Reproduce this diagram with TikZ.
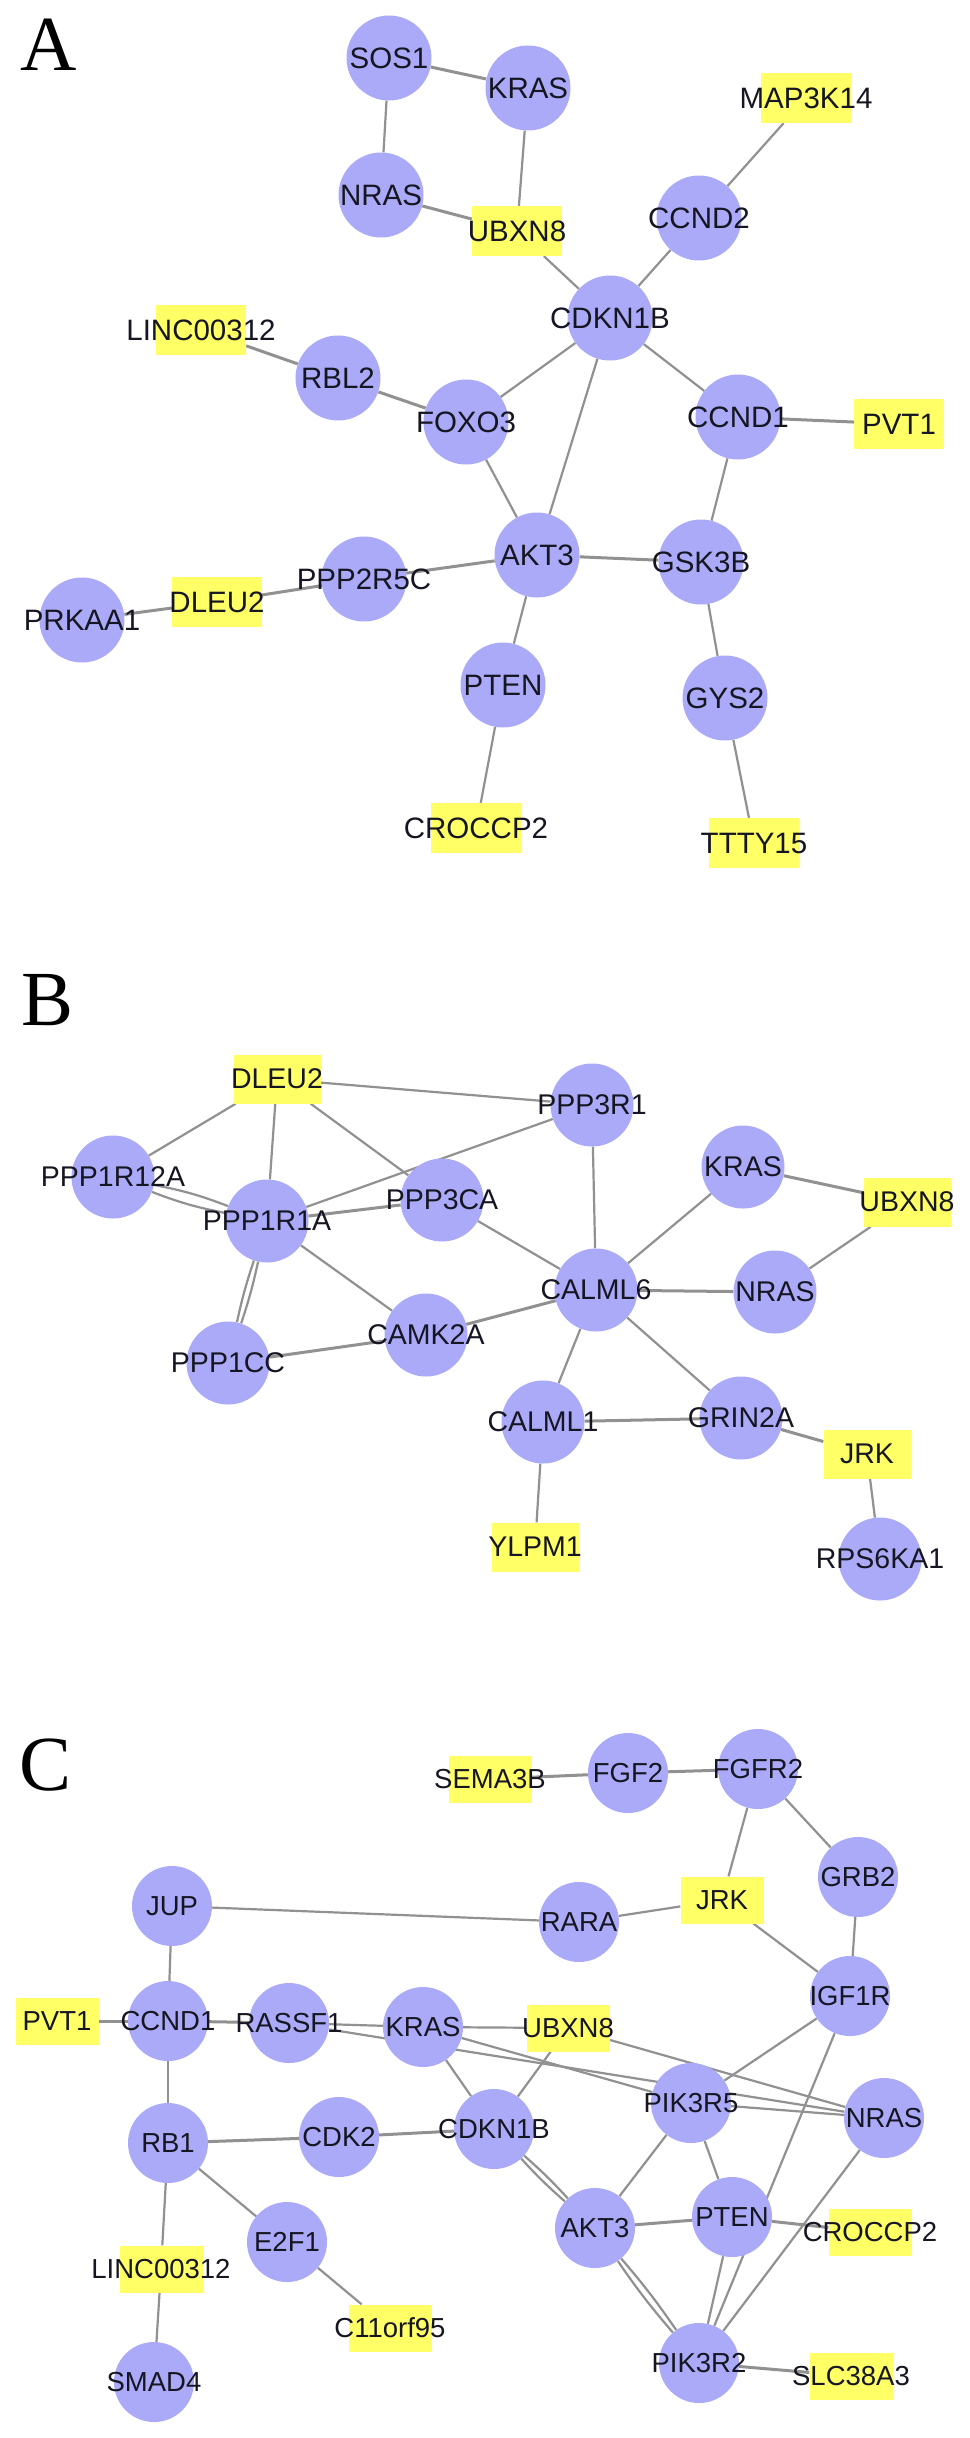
\documentclass[tikz,border=0pt]{standalone}
\usepackage{fontspec}
\setmainfont{Liberation Sans}
\newfontfamily\letterfont{Liberation Serif}
\definecolor{nodeblue}{RGB}{170,170,248}
\definecolor{lncyellow}{RGB}{255,255,102}
\definecolor{edgec}{RGB}{145,145,145}
\definecolor{textc}{RGB}{22,22,34}
\pgfdeclarelayer{backdrop}
\pgfdeclarelayer{bg}
\pgfsetlayers{backdrop,bg,main}
\tikzset{
  txt/.style={font=\fontsize{\fsz}{\fsz}\selectfont, text=textc, inner sep=0pt},
  gene/.style={circle, fill=nodeblue, inner sep=0pt, minimum size=\csz, label={[txt]center:#1}},
  lnc/.style={rectangle, fill=lncyellow, inner sep=0pt, minimum width=\bw, minimum height=\bh, label={[txt]center:#1}},
  edge/.style={draw=edgec, line width=2.2pt},
  thick edge/.style={draw=edgec, line width=3pt},
  panel/.style={font=\letterfont\fontsize{78}{78}\selectfont, text=black, inner sep=0pt},
}
\begin{document}
\begin{tikzpicture}[x=1pt,y=-1pt]
\begin{pgfonlayer}{backdrop}
\fill[white] (0,0) rectangle (969,2438);
\end{pgfonlayer}
\useasboundingbox (0,0) rectangle (969,2438);

% ---------------- Panel A ----------------
\begin{scope}
\def\csz{85pt}\def\bw{90pt}\def\bh{50pt}\def\fsz{29.5}
\node[panel] (labA) at (49,45) {A};
\node[gene=SOS1] (a-sos1) at (389,58) {};
\node[gene=KRAS] (a-kras) at (528,88) {};
\node[gene=NRAS] (a-nras) at (381,195) {};
\node[gene=CCND2] (a-ccnd2) at (699,218) {};
\node[gene=CDKN1B] (a-cdkn1b) at (610,318) {};
\node[gene=RBL2] (a-rbl2) at (338,378) {};
\node[gene=FOXO3] (a-foxo3) at (466,422) {};
\node[gene=CCND1] (a-ccnd1) at (738,417) {};
\node[gene=AKT3] (a-akt3) at (537,555) {};
\node[gene=GSK3B] (a-gsk3b) at (701,562) {};
\node[gene=PPP2R5C] (a-ppp2r5c) at (364,579) {};
\node[gene=PRKAA1] (a-prkaa1) at (82,620) {};
\node[gene=PTEN] (a-pten) at (503,685) {};
\node[gene=GYS2] (a-gys2) at (725,698) {};
\node[lnc=UBXN8] (a-ubxn8) at (517,231) {};
\node[lnc=MAP3K14] (a-map3k14) at (806,98) {};
\node[lnc=LINC00312] (a-linc) at (201,330) {};
\node[lnc=PVT1] (a-pvt1) at (899,424) {};
\node[lnc=DLEU2] (a-dleu2) at (217,602) {};
\node[lnc=CROCCP2] (a-croccp2) at (476,828) {};
\node[lnc=TTTY15] (a-ttty15) at (754,843) {};
\begin{pgfonlayer}{bg}
\draw[thick edge] (a-sos1) -- (a-kras);
\draw[edge] (a-sos1) -- (a-nras);
\draw[thick edge] (a-nras) -- (a-ubxn8);
\draw[edge] (a-kras) -- (a-ubxn8);
\draw[edge] (a-ubxn8) -- (a-cdkn1b);
\draw[edge] (a-ccnd2) -- (a-map3k14);
\draw[edge] (a-ccnd2) -- (a-cdkn1b);
\draw[thick edge] (a-linc) -- (a-rbl2);
\draw[thick edge] (a-rbl2) -- (a-foxo3);
\draw[edge] (a-foxo3) -- (a-cdkn1b);
\draw[edge] (a-cdkn1b) -- (a-akt3);
\draw[edge] (a-cdkn1b) -- (a-ccnd1);
\draw[thick edge] (a-ccnd1) -- (a-pvt1);
\draw[edge] (a-ccnd1) -- (a-gsk3b);
\draw[edge] (a-foxo3) -- (a-akt3);
\draw[thick edge] (a-akt3) -- (a-gsk3b);
\draw[thick edge] (a-akt3) -- (a-ppp2r5c);
\draw[thick edge] (a-ppp2r5c) -- (a-dleu2);
\draw[thick edge] (a-dleu2) -- (a-prkaa1);
\draw[edge] (a-akt3) -- (a-pten);
\draw[edge] (a-gsk3b) -- (a-gys2);
\draw[edge] (a-pten) -- (a-croccp2);
\draw[edge] (a-gys2) -- (a-ttty15);
\end{pgfonlayer}
\end{scope}

% ---------------- Panel B ----------------
\begin{scope}
\def\csz{83pt}\def\bw{87pt}\def\bh{49pt}\def\fsz{28.5}
\node[panel] (labB) at (48,1000) {B};
\node[gene=PPP3R1] (b-ppp3r1) at (592,1105) {};
\node[gene=PPP1R12A] (b-ppp1r12a) at (113,1177) {};
\node[gene=PPP1R1A] (b-ppp1r1a) at (267,1221) {};
\node[gene=PPP3CA] (b-ppp3ca) at (442,1200) {};
\node[gene=KRAS] (b-kras) at (743,1167) {};
\node[gene=CALML6] (b-calml6) at (596,1290) {};
\node[gene=NRAS] (b-nras) at (775,1292) {};
\node[gene=CAMK2A] (b-camk2a) at (426,1335) {};
\node[gene=PPP1CC] (b-ppp1cc) at (228,1363) {};
\node[gene=CALML1] (b-calml1) at (543,1422) {};
\node[gene=GRIN2A] (b-grin2a) at (741,1418) {};
\node[gene=RPS6KA1] (b-rps6ka1) at (880,1559) {};
\node[lnc=DLEU2] (b-dleu2) at (277,1079) {};
\node[lnc=UBXN8] (b-ubxn8) at (907,1202) {};
\node[lnc=JRK] (b-jrk) at (867,1454) {};
\node[lnc=YLPM1] (b-ylpm1) at (535,1547) {};
\begin{pgfonlayer}{bg}
\draw[edge] (b-dleu2) -- (b-ppp3r1);
\draw[edge] (b-dleu2) -- (b-ppp1r12a);
\draw[edge] (b-dleu2) -- (b-ppp1r1a);
\draw[edge] (b-dleu2) -- (b-ppp3ca);
\draw[edge] (b-ppp3r1) -- (b-ppp1r1a);
\draw[edge] (b-ppp3r1) -- (b-calml6);
\draw[edge] (b-ppp1r12a) to[bend left=5] (b-ppp1r1a);
\draw[edge] (b-ppp1r12a) to[bend right=5] (b-ppp1r1a);
\draw[thick edge] (b-ppp1r1a) -- (b-ppp3ca);
\draw[edge] (b-ppp1r1a) to[bend left=3] (b-ppp1cc);
\draw[edge] (b-ppp1r1a) to[bend right=3] (b-ppp1cc);
\draw[edge] (b-ppp1r1a) -- (b-camk2a);
\draw[edge] (b-ppp3ca) -- (b-calml6);
\draw[thick edge] (b-ppp1cc) -- (b-camk2a);
\draw[thick edge] (b-camk2a) -- (b-calml6);
\draw[edge] (b-kras) -- (b-calml6);
\draw[thick edge] (b-kras) -- (b-ubxn8);
\draw[edge] (b-nras) -- (b-ubxn8);
\draw[thick edge] (b-calml6) -- (b-nras);
\draw[edge] (b-calml6) -- (b-calml1);
\draw[edge] (b-calml6) -- (b-grin2a);
\draw[thick edge] (b-calml1) -- (b-grin2a);
\draw[thick edge] (b-grin2a) -- (b-jrk);
\draw[edge] (b-jrk) -- (b-rps6ka1);
\draw[edge] (b-calml1) -- (b-ylpm1);
\end{pgfonlayer}
\end{scope}

% ---------------- Panel C ----------------
\begin{scope}
\def\csz{80pt}\def\bw{83pt}\def\bh{47pt}\def\fsz{27.5}
\node[panel] (labC) at (46,1765) {C};
\node[gene=FGF2] (c-fgf2) at (628,1773) {};
\node[gene=FGFR2] (c-fgfr2) at (758,1769) {};
\node[gene=GRB2] (c-grb2) at (858,1877) {};
\node[gene=JUP] (c-jup) at (172,1906) {};
\node[gene=RARA] (c-rara) at (579,1922) {};
\node[gene=IGF1R] (c-igf1r) at (850,1996) {};
\node[gene=CCND1] (c-ccnd1) at (168,2021) {};
\node[gene=RASSF1] (c-rassf1) at (289,2023) {};
\node[gene=KRAS] (c-kras) at (423,2027) {};
\node[gene=PIK3R5] (c-pik3r5) at (691,2103) {};
\node[gene=NRAS] (c-nras) at (884,2118) {};
\node[gene=RB1] (c-rb1) at (168,2143) {};
\node[gene=CDK2] (c-cdk2) at (339,2137) {};
\node[gene=CDKN1B] (c-cdkn1b) at (494,2129) {};
\node[gene=E2F1] (c-e2f1) at (287,2242) {};
\node[gene=AKT3] (c-akt3) at (595,2228) {};
\node[gene=PTEN] (c-pten) at (732,2217) {};
\node[gene=SMAD4] (c-smad4) at (154,2382) {};
\node[gene=PIK3R2] (c-pik3r2) at (699,2363) {};
\node[lnc=SEMA3B] (c-sema3b) at (490,1779) {};
\node[lnc=JRK] (c-jrk) at (722,1900) {};
\node[lnc=PVT1] (c-pvt1) at (57,2021) {};
\node[lnc=UBXN8] (c-ubxn8) at (568,2028) {};
\node[lnc=LINC00312] (c-linc) at (161,2269) {};
\node[lnc=C11orf95] (c-c11orf95) at (390,2328) {};
\node[lnc=CROCCP2] (c-croccp2) at (870,2232) {};
\node[lnc=SLC38A3] (c-slc38a3) at (851,2376) {};
\begin{pgfonlayer}{bg}
\draw[thick edge] (c-sema3b) -- (c-fgf2);
\draw[thick edge] (c-fgf2) -- (c-fgfr2);
\draw[edge] (c-fgfr2) -- (c-jrk);
\draw[edge] (c-fgfr2) -- (c-grb2);
\draw[edge] (c-grb2) -- (c-igf1r);
\draw[edge] (c-jup) -- (c-rara);
\draw[edge] (c-rara) -- (c-jrk);
\draw[edge] (c-jrk) -- (c-igf1r);
\draw[edge] (c-jup) -- (c-ccnd1);
\draw[thick edge] (c-pvt1) -- (c-ccnd1);
\draw[thick edge] (c-ccnd1) -- (c-rassf1);
\draw[edge] (c-ccnd1) -- (c-rb1);
\draw[thick edge] (c-rb1) -- (c-cdk2);
\draw[edge] (c-rb1) -- (c-e2f1);
\draw[edge] (c-rb1) -- (c-linc);
\draw[edge] (c-linc) -- (c-smad4);
\draw[edge] (c-e2f1) -- (c-c11orf95);
\draw[thick edge] (c-cdk2) -- (c-cdkn1b);
\draw[edge] (c-rassf1) -- (c-kras);
\draw[edge] (c-rassf1) -- (c-nras);
\draw[edge] (c-kras) -- (c-pik3r5);
\draw[edge] (c-pik3r5) -- (c-nras);
\draw[edge] (c-ubxn8) -- (c-nras);
\draw[edge] (c-kras) -- (c-ubxn8);
\draw[edge] (c-kras) -- (c-cdkn1b);
\draw[edge] (c-ubxn8) -- (c-cdkn1b);
\draw[edge] (c-cdkn1b) to[bend left=3] (c-akt3);
\draw[edge] (c-cdkn1b) to[bend right=3] (c-akt3);
\draw[edge] (c-akt3) -- (c-pik3r5);
\draw[thick edge] (c-akt3) -- (c-pten);
\draw[edge] (c-akt3) to[bend left=3] (c-pik3r2);
\draw[edge] (c-akt3) to[bend right=3] (c-pik3r2);
\draw[edge] (c-pik3r5) -- (c-pten);
\draw[edge] (c-pik3r5) -- (c-igf1r);
\draw[edge] (c-igf1r) -- (c-pik3r2);
\draw[edge] (c-pten) -- (c-pik3r2);
\draw[edge] (c-nras) -- (c-pik3r2);
\draw[thick edge] (c-pten) -- (c-croccp2);
\draw[thick edge] (c-pik3r2) -- (c-slc38a3);
\end{pgfonlayer}
\end{scope}
\end{tikzpicture}
\end{document}
